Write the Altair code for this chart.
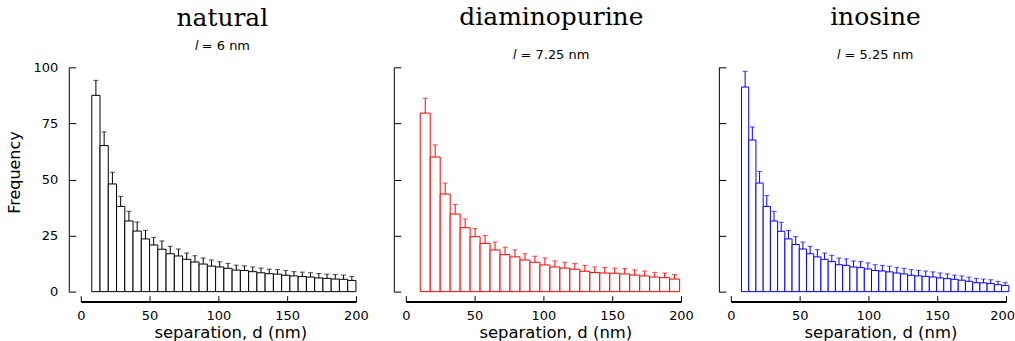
import altair as alt
import pandas as pd

titles = ["natural", "diaminopurine", "inosine"]
subtitles = ["\U0001D459  = 6 nm", "\U0001D459 = 7.25 nm", "\U0001D459 = 5.25 nm"]
colors = ["#000000", "#ff0000", "#0000ff"]
bin_widths = [6.0, 7.25, 5.25]
bin_starts = [8.0, 10.5, 7.75]
y_ticks = [0, 25, 50, 75, 100]
x_ticks = [0, 50, 100, 150, 200]

natural_freq = [87.5, 65.1, 48.0, 38.0, 31.5, 27.0, 23.5, 20.8, 18.9, 16.9, 15.9, 14.4,
                13.2, 12.3, 11.4, 11.0, 10.4, 9.6, 9.4, 8.9, 8.4, 8.0, 7.8, 7.3, 7.0, 6.7,
                6.5, 6.1, 5.9, 5.6, 5.5, 5.0]
natural_err = [6.7, 6.1, 5.2, 4.5, 4.3, 4.0, 3.8, 3.4, 3.7, 3.3, 3.1, 2.8, 2.8, 2.7, 2.7,
               2.3, 2.2, 2.2, 2.1, 2.1, 2.1, 2.0, 2.0, 2.1, 1.9, 2.0, 1.9, 2.0, 1.9, 2.0,
               1.9, 1.8]

dap_freq = [79.6, 60.0, 43.5, 34.6, 28.5, 24.5, 21.5, 18.6, 16.5, 15.5, 14.1, 13.1, 11.9,
            11.0, 10.5, 10.0, 9.1, 8.5, 8.3, 8.2, 7.9, 7.4, 7.0, 6.5, 6.2, 5.6]
dap_err = [6.6, 5.4, 4.9, 4.3, 3.9, 3.6, 3.5, 3.5, 3.3, 3.1, 2.8, 2.7, 3.1, 2.7, 2.6, 2.5,
           2.6, 2.5, 2.5, 2.3, 2.4, 2.3, 2.2, 2.1, 2.1, 2.0]

ino_freq = [91.2, 67.6, 48.4, 38.0, 31.5, 26.9, 23.5, 21.0, 19.0, 16.9, 15.5, 14.4, 13.4,
            12.0, 11.7, 11.0, 10.7, 10.1, 9.4, 9.2, 8.8, 8.3, 7.9, 7.3, 7.0, 6.8, 6.5, 6.1,
            5.8, 5.5, 5.1, 4.6, 4.0, 3.9, 3.6, 3.1, 2.7]
ino_err = [7.0, 5.8, 5.2, 4.8, 4.3, 4.0, 3.8, 3.5, 3.1, 3.3, 3.2, 2.8, 2.8, 3.0, 2.9, 2.7,
           2.7, 2.7, 2.6, 2.5, 2.5, 2.5, 2.5, 2.5, 2.5, 2.4, 2.3, 2.2, 2.1, 1.9, 1.9, 1.9,
           1.9, 1.7, 1.7, 1.5, 1.3]

series = [(natural_freq, natural_err), (dap_freq, dap_err), (ino_freq, ino_err)]

SANS = "DejaVu Sans"
SERIF = "DejaVu Serif"
title_dx = [4, 8, 7]


def panel(i):
    freq, err = series[i]
    w, s = bin_widths[i], bin_starts[i]
    df = pd.DataFrame({
        "x0": [s + k * w for k in range(len(freq))],
        "x1": [s + (k + 1) * w for k in range(len(freq))],
        "xc": [s + (k + 0.5) * w for k in range(len(freq))],
        "freq": freq,
        "top": [f + e for f, e in zip(freq, err)],
        "zero": [0] * len(freq),
    })
    color = colors[i]
    xs = alt.Scale(domain=[0, 200], nice=False, zero=False)
    ys = alt.Scale(domain=[0, 100], nice=False)
    first = i == 0
    last = i == 2

    extra = {}
    if last:
        extra = dict(
            labelAlign={"condition": {"test": "datum.value == 200", "value": "right"},
                        "value": "center"},
            labelOffset={"condition": {"test": "datum.value == 200", "value": 8.5},
                         "value": 0},
        )
    x_axis_a = alt.Axis(orient="bottom", offset=10, domain=True, domainColor="black",
                        domainWidth=2, ticks=False, tickSize=0, labels=True,
                        labelFlush=False, labelPadding=7.5, values=x_ticks, grid=False,
                        labelFont=SANS, labelFontSize=13, labelColor="black",
                        title="separation, d (nm)", titleFont=SANS, titleFontSize=16.5,
                        titleFontWeight="normal", titleColor="black", titleX=150,
                        titleY=30.5, titleAlign="center", titleBaseline="middle", **extra)
    x_axis_b = alt.Axis(orient="bottom", offset=4, domain=False, ticks=True, tickSize=6,
                        tickColor="black", tickWidth=1, labels=False, values=x_ticks,
                        grid=False, title=None)
    if first:
        y_axis_a = alt.Axis(orient="left", offset=12, domain=True, domainColor="black",
                            domainWidth=1, ticks=False, tickSize=0, labels=True,
                            labelPadding=11, values=y_ticks, grid=False, labelFont=SANS,
                            labelFontSize=13, labelColor="black", title="Frequency",
                            titleFont=SANS, titleFontSize=16, titleFontWeight="normal",
                            titleColor="black", titleX=-54, titleY=105, titleAngle=270,
                            titleAlign="center", titleBaseline="middle")
    else:
        y_axis_a = alt.Axis(orient="left", offset=12, domain=True, domainColor="black",
                            domainWidth=1, ticks=False, tickSize=0, labels=False,
                            values=y_ticks, grid=False, title=None)
    y_axis_b = alt.Axis(orient="left", offset=5, domain=False, ticks=True, tickSize=7,
                        tickColor="black", tickWidth=1, labels=False, values=y_ticks,
                        grid=False, title=None)

    bars = alt.Chart(df).mark_bar(fill="white", stroke=color, strokeWidth=1).encode(
        x=alt.X("x0:Q", scale=xs, axis=x_axis_a),
        x2="x1:Q",
        y=alt.Y("freq:Q", scale=ys, axis=y_axis_a),
        y2="zero:Q",
    )
    rules = alt.Chart(df).mark_rule(color=color, strokeWidth=1).encode(
        x=alt.X("xc:Q", scale=xs, axis=x_axis_b),
        y=alt.Y("freq:Q", scale=ys, axis=y_axis_b),
        y2="top:Q",
    )
    caps = alt.Chart(df).mark_tick(color=color, orient="horizontal", size=5,
                                   thickness=1).encode(
        x=alt.X("xc:Q", scale=xs, axis=None),
        y=alt.Y("top:Q", scale=ys, axis=None),
    )
    sub_pad = 9 if first else 19
    off = 8.5 if first else 4.5
    return alt.layer(bars, rules, caps).resolve_axis(x="independent", y="independent").properties(
        width=276, height=225,
        title=alt.TitleParams(text=titles[i], subtitle=subtitles[i], font=SERIF,
                              fontSize=25, fontWeight="normal", color="black",
                              subtitleFont=SANS, subtitleFontSize=13,
                              subtitleColor="black", subtitlePadding=sub_pad,
                              anchor="middle", dx=title_dx[i], offset=off),
    )


chart = alt.hconcat(panel(0), panel(1), panel(2), spacing=24).properties(
    padding={"left": 7, "top": 5, "right": 0, "bottom": 0}
).configure_view(stroke=None)

chart.save("out.html", embed_options={"renderer": "svg", "actions": False})
